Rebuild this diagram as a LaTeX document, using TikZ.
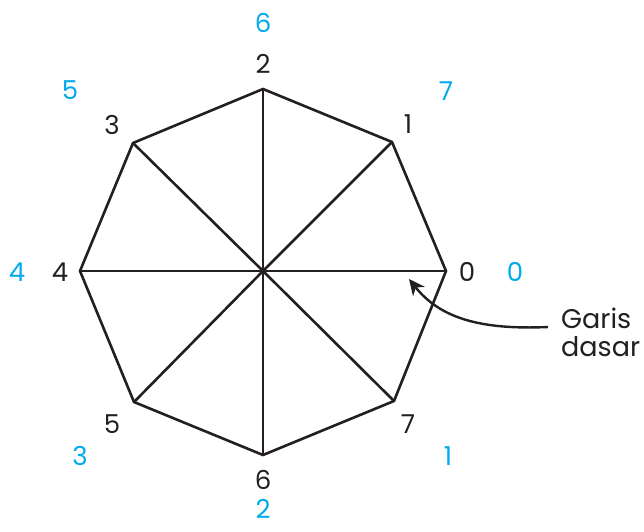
\documentclass[tikz,border=0pt]{standalone}
\usepackage{fontspec}
\setmainfont{Poppins}
\usetikzlibrary{arrows.meta}
\definecolor{numblue}{RGB}{0,170,236}
\definecolor{ink}{RGB}{35,31,32}
\begin{document}
\begin{tikzpicture}[x=1pt,y=-1pt,
  edge/.style={draw=ink,line width=2.6pt,line join=miter},
  blk/.style={text=ink,font=\fontsize{26}{30}\selectfont,inner sep=0pt},
  blu/.style={text=numblue,font=\fontsize{26}{30}\selectfont,inner sep=0pt},
  lbl/.style={text=ink,font=\fontsize{27}{30}\selectfont,inner sep=0pt,anchor=west}]
\useasboundingbox (0,0) rectangle (644,531);
\coordinate (c) at (263,271);
\coordinate (v0) at (446,271);
\coordinate (v1) at (392,142);
\coordinate (v2) at (263,89);
\coordinate (v3) at (133,143);
\coordinate (v4) at (80,271);
\coordinate (v5) at (134,402);
\coordinate (v6) at (263,455);
\coordinate (v7) at (394,401);
\draw[edge] (v0)--(v1)--(v2)--(v3)--(v4)--(v5)--(v6)--(v7)--cycle;
\foreach \i in {0,...,7}{\draw[edge] (c)--(v\i);}
\node[blk] (b2) at (263,64) {2};
\node[blk] (b1) at (408,124) {1};
\node[blk] (b0) at (467,272) {0};
\node[blk] (b7) at (408,424) {7};
\node[blk] (b6) at (263,480) {6};
\node[blk] (b5) at (112,424) {5};
\node[blk] (b4) at (60,272) {4};
\node[blk] (b3) at (112,125) {3};
\node[blu] (u6) at (263,23) {6};
\node[blu] (u7) at (446,91) {7};
\node[blu] (u0) at (515,272) {0};
\node[blu] (u1) at (448,456) {1};
\node[blu] (u2) at (263,509) {2};
\node[blu] (u3) at (80,456) {3};
\node[blu] (u4) at (17,272) {4};
\node[blu] (u5) at (70,90) {5};
\node[lbl] (g1) at (561,318) {Garis};
\node[lbl] (g2) at (561,347) {dasar};
\coordinate (ta) at (548,327);
\coordinate (tb) at (409,279);
\draw[draw=ink,line width=2.4pt,-{Stealth[length=16pt,width=15pt]}] (ta) .. controls (480,330) and (440,318) .. (tb);
\end{tikzpicture}
\end{document}
